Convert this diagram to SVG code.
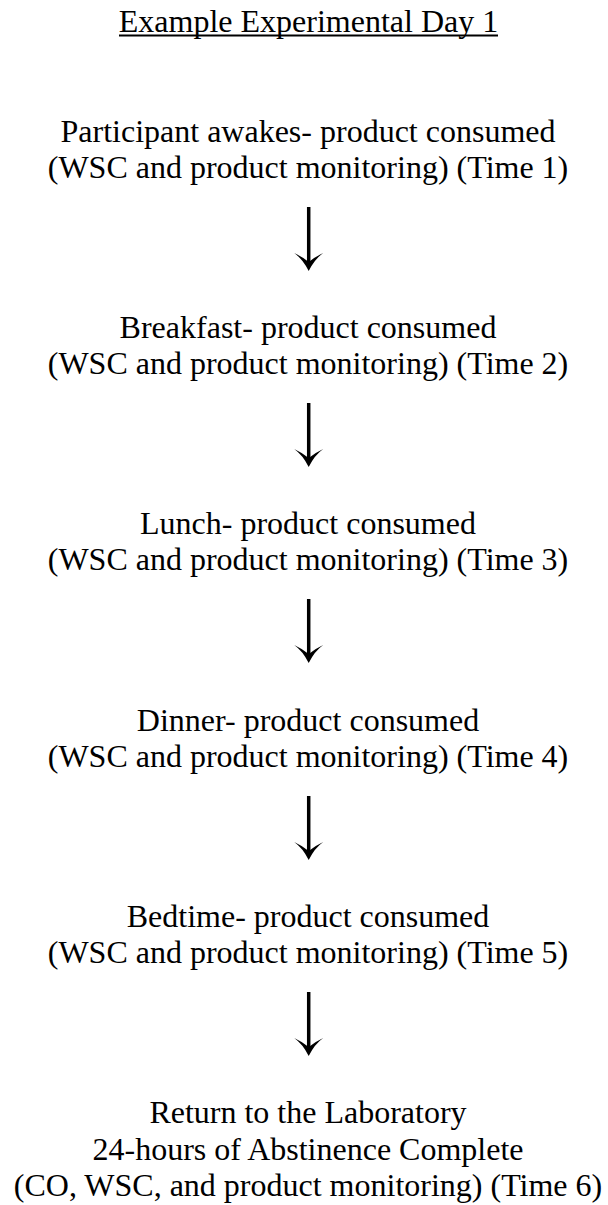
<svg xmlns="http://www.w3.org/2000/svg" width="608" height="1205" viewBox="0 0 608 1205">
  <style>
    .lbl { font-family: "Liberation Serif", "Times New Roman", serif; font-size: 32px; fill: #000; text-anchor: middle; }
    .shaft { stroke: #000; stroke-width: 3.5; fill: none; }
    .head { fill: #000; stroke: none; }
  </style>
  <defs>
    <!-- one downward arrow: shaft plus a thick chevron head -->
    <g id="down-arrow">
      <line class="shaft" x1="0" y1="0" x2="0" y2="57"/>
      <path class="head" d="M-14.5,46 Q-6,52 0,64 Q6,52 14.5,46 Q6,50 0,55 Q-6,50 -14.5,46 Z"/>
    </g>
  </defs>
  <rect width="608" height="1205" fill="#fff"/>

  <g id="title" class="lbl">
    <text x="308.5" y="32">Example Experimental Day 1</text>
    <rect x="119" y="34.5" width="379" height="2" fill="#000"/>
  </g>

  <g id="node-time1" class="lbl">
    <text x="308" y="142">Participant awakes- product consumed</text>
    <text x="308" y="178">(WSC and product monitoring) (Time 1)</text>
  </g>
  <g id="node-time2" class="lbl">
    <text x="308" y="338">Breakfast- product consumed</text>
    <text x="308" y="374">(WSC and product monitoring) (Time 2)</text>
  </g>
  <g id="node-time3" class="lbl">
    <text x="308" y="534">Lunch- product consumed</text>
    <text x="308" y="570">(WSC and product monitoring) (Time 3)</text>
  </g>
  <g id="node-time4" class="lbl">
    <text x="308" y="731">Dinner- product consumed</text>
    <text x="308" y="767">(WSC and product monitoring) (Time 4)</text>
  </g>
  <g id="node-time5" class="lbl">
    <text x="308" y="927">Bedtime- product consumed</text>
    <text x="308" y="963">(WSC and product monitoring) (Time 5)</text>
  </g>
  <g id="node-time6" class="lbl">
    <text x="308" y="1123">Return to the Laboratory</text>
    <text x="308" y="1159.5">24-hours of Abstinence Complete</text>
    <text x="308" y="1196">(CO, WSC, and product monitoring) (Time 6)</text>
  </g>

  <g id="connectors">
    <use href="#down-arrow" x="308.7" y="207"/>
    <use href="#down-arrow" x="308.7" y="403"/>
    <use href="#down-arrow" x="308.7" y="599"/>
    <use href="#down-arrow" x="308.7" y="796"/>
    <use href="#down-arrow" x="308.7" y="992"/>
  </g>
</svg>
